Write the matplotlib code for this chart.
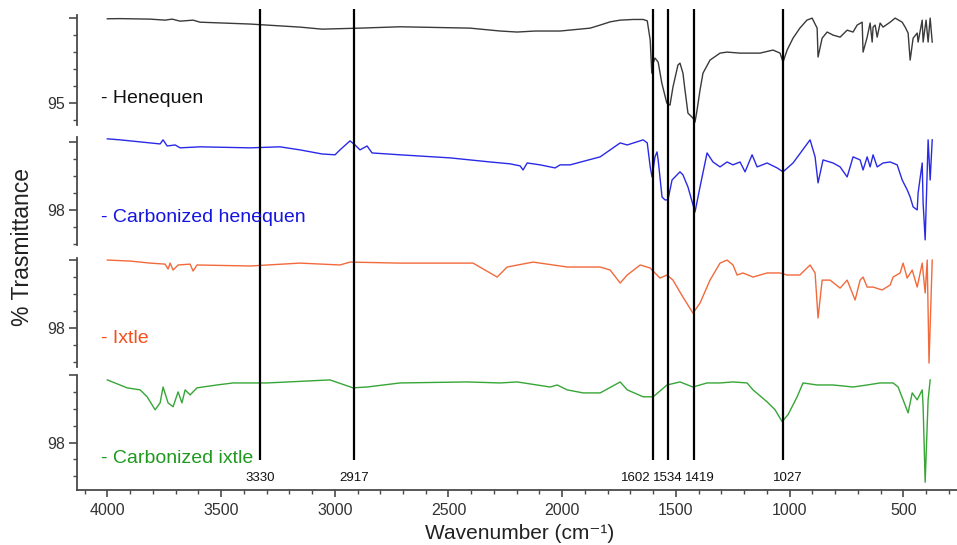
import matplotlib.pyplot as plt
from matplotlib.ticker import MultipleLocator

plt.rcParams['font.family'] = ['Liberation Sans', 'DejaVu Sans']

# FTIR spectra: wavenumber (cm-1) and offset transmittance for each sample
henequen_wn = [4000, 3944, 3812, 3746, 3715, 3680, 3623, 3592, 3372, 3153,
               3056, 2889, 2713, 2405, 2273, 2198, 2119, 2009, 1877, 1833,
               1789, 1745, 1687, 1644, 1626, 1613, 1606, 1600, 1592, 1578,
               1562, 1540, 1526, 1513, 1491, 1482, 1469, 1460, 1447, 1425,
               1416, 1407, 1394, 1381, 1350, 1306, 1275, 1218, 1130, 1073,
               1042, 1029, 1011, 985, 955, 924, 901, 879, 875, 857,
               835, 809, 778, 747, 721, 703, 681, 677, 659, 646,
               637, 633, 624, 615, 602, 589, 558, 536, 505, 492,
               479, 470, 457, 439, 435, 417, 413, 400, 391, 382, 373]
henequen_t = [99.96, 99.97, 99.94, 99.88, 99.94, 99.82, 99.88, 99.76, 99.65, 99.47,
              99.35, 99.41, 99.49, 99.41, 99.24, 99.18, 99.24, 99.24, 99.41, 99.59,
              99.78, 99.88, 99.92, 99.92, 99.84, 98.71, 96.76, 97.35, 97.65, 97.41,
              96.18, 95.00, 94.88, 95.94, 97.24, 97.35, 96.76, 95.76, 94.41, 94.12,
              93.88, 94.59, 95.76, 96.76, 97.53, 97.94, 98.00, 97.94, 97.94, 98.12,
              97.94, 97.41, 98.12, 98.82, 99.41, 99.88, 100.00, 99.41, 97.71, 98.82,
              99.18, 99.00, 98.88, 99.29, 99.18, 99.59, 99.76, 98.00, 98.88, 99.71,
              98.59, 99.47, 99.59, 98.88, 99.71, 99.47, 99.76, 100.00, 99.76, 99.47,
              99.12, 97.53, 98.82, 99.12, 98.59, 99.88, 98.59, 99.88, 98.59, 100.00, 98.59]

carb_henequen_wn = [4000, 3944, 3856, 3812, 3768, 3755, 3737, 3702, 3680, 3592,
                    3372, 3241, 3153, 3056, 2999, 2977, 2933, 2911, 2889, 2858,
                    2836, 2713, 2493, 2317, 2229, 2185, 2172, 2154, 2097, 2031,
                    2009, 1965, 1833, 1745, 1714, 1644, 1626, 1613, 1605, 1592,
                    1583, 1578, 1561, 1548, 1535, 1517, 1482, 1469, 1447, 1416,
                    1394, 1363, 1337, 1306, 1275, 1249, 1218, 1196, 1165, 1143,
                    1099, 1055, 1029, 985, 910, 888, 875, 853, 809, 778,
                    747, 721, 690, 677, 659, 646, 633, 615, 589, 558,
                    527, 505, 483, 470, 457, 439, 435, 417, 413, 404, 391, 382, 373]
carb_henequen_t = [102.18, 102.12, 102.00, 101.94, 101.88, 102.12, 101.76, 101.82, 101.65, 101.71,
                   101.65, 101.71, 101.53, 101.29, 101.24, 101.53, 102.06, 101.82, 101.53, 101.76,
                   101.35, 101.24, 101.06, 100.82, 100.71, 100.59, 100.35, 100.76, 100.65, 100.47,
                   100.65, 100.65, 101.12, 101.94, 101.82, 102.12, 101.94, 100.53, 99.94, 101.12,
                   101.41, 100.94, 98.76, 98.59, 98.59, 99.76, 100.24, 100.06, 99.35, 97.88,
                   99.35, 101.35, 100.82, 100.53, 100.82, 100.65, 100.82, 100.24, 101.24, 100.53,
                   100.76, 100.47, 100.24, 100.76, 102.12, 101.12, 99.59, 100.94, 100.76, 100.53,
                   99.94, 101.12, 100.94, 100.35, 101.12, 100.53, 101.24, 100.53, 100.76, 100.82,
                   100.65, 99.76, 99.18, 98.76, 98.18, 98.00, 99.00, 100.76, 98.41, 96.24, 102.12, 99.76, 102.12]

ixtle_wn = [4000, 3900, 3812, 3746, 3733, 3724, 3711, 3689, 3636, 3623,
            3606, 3372, 3153, 2977, 2933, 2713, 2392, 2286, 2242, 2128,
            2040, 1978, 1833, 1789, 1745, 1714, 1657, 1613, 1570, 1539,
            1513, 1469, 1425, 1394, 1350, 1306, 1275, 1249, 1231, 1205,
            1161, 1099, 1042, 1011, 955, 910, 888, 875, 857, 822,
            778, 747, 712, 690, 677, 659, 633, 593, 558, 545,
            514, 501, 483, 461, 439, 417, 404, 395, 387, 373]
ixtle_t = [102.00, 101.94, 101.82, 101.76, 101.47, 101.82, 101.41, 101.71, 101.76, 101.35,
           101.71, 101.65, 101.82, 101.71, 101.88, 101.82, 101.82, 101.00, 101.59, 101.88,
           101.71, 101.59, 101.59, 101.41, 100.65, 101.12, 101.71, 101.53, 100.94, 101.12,
           100.82, 99.82, 98.88, 99.47, 100.82, 101.82, 102.00, 101.71, 101.12, 101.24,
           101.00, 101.24, 101.24, 101.12, 101.12, 101.71, 101.24, 98.59, 100.82, 100.82,
           100.35, 100.82, 99.65, 100.82, 101.00, 100.41, 100.41, 100.24, 100.53, 101.00,
           101.24, 101.82, 100.94, 101.41, 100.41, 101.82, 100.06, 102.00, 95.94, 102.00]

carb_ixtle_wn = [4000, 3913, 3856, 3825, 3790, 3768, 3755, 3733, 3711, 3689,
                 3672, 3658, 3636, 3606, 3518, 3447, 3298, 3021, 2920, 2858,
                 2713, 2418, 2273, 2198, 2053, 2022, 1978, 1908, 1833, 1745,
                 1714, 1644, 1600, 1539, 1482, 1425, 1363, 1306, 1249, 1187,
                 1161, 1099, 1064, 1033, 1007, 967, 941, 879, 809, 721,
                 659, 602, 545, 523, 501, 479, 461, 439, 417, 413,
                 404, 391, 382]
carb_ixtle_t = [101.71, 101.24, 101.12, 100.71, 99.94, 100.35, 101.29, 100.35, 100.12, 101.00,
                100.35, 101.12, 100.82, 101.24, 101.41, 101.53, 101.53, 101.71, 101.24, 101.29,
                101.53, 101.59, 101.53, 101.59, 101.29, 101.41, 101.12, 100.94, 100.94, 101.59,
                101.12, 100.71, 100.71, 101.41, 101.59, 101.29, 101.53, 101.53, 101.59, 101.53,
                101.12, 100.41, 99.94, 99.24, 99.65, 100.71, 101.53, 101.41, 101.41, 101.29,
                101.41, 101.53, 101.53, 101.29, 100.53, 99.76, 100.94, 100.53, 101.12, 100.12,
                95.65, 100.53, 101.71]

sample_names = ['Henequen', 'Carbonized henequen', 'Ixtle', 'Carbonized ixtle']
label_ticks = [95, 98, 98, 98]
top_ticks = [100, 102, 102, 102]
band_positions = [3330, 2917, 1602, 1534, 1419, 1027]

spectra = [(henequen_wn, henequen_t), (carb_henequen_wn, carb_henequen_t),
           (ixtle_wn, ixtle_t), (carb_ixtle_wn, carb_ixtle_t)]
line_colors = ['#3a3a3a', '#2a2ae6', '#f26a3c', '#36a636']
text_colors = ['#111111', '#1515e0', '#f2501e', '#1f9a1f']

# panel boxes (figure fraction) and y ranges, top to bottom
panel_boxes = [(0.7706, 0.2018), (0.5505, 0.1982), (0.3266, 0.2000), (0.1009, 0.2110)]
panel_ylims = [(93.71, 100.18), (95.94, 102.29), (95.71, 102.12), (95.19, 102.0)]
name_y = [0.820, 0.600, 0.378, 0.158]

# horizontal nudge (points) and alignment for the crowded band labels
band_label_style = {1602: (-1.5, 'right'), 1534: (0, 'center'), 1419: (4, 'center'),
                    1027: (3, 'center')}

xlim = (4132, 264)
left, width = 0.0808, 0.9192
axis_grey = '#4a4a4a'

fig = plt.figure(figsize=(9.57, 5.45), dpi=100)

for i, (wn, t) in enumerate(spectra):
    bottom, height = panel_boxes[i]
    ax = fig.add_axes([left, bottom, width, height])
    ax.plot(wn, t, color=line_colors[i], lw=1.0, clip_on=False)
    ax.set_xlim(*xlim)
    ax.set_ylim(*panel_ylims[i])
    ax.set_facecolor('none')
    for s in ['top', 'right']:
        ax.spines[s].set_visible(False)
    ax.spines['left'].set_color(axis_grey)
    ax.spines['left'].set_linewidth(1.3)
    ax.set_yticks([label_ticks[i], top_ticks[i]])
    ax.set_yticklabels([str(label_ticks[i]), ''])
    ax.yaxis.set_minor_locator(MultipleLocator(1))
    ax.tick_params(axis='y', which='major', length=6, width=1.2, color=axis_grey,
                   labelsize=11.5, labelcolor='#333333', pad=3)
    ax.tick_params(axis='y', which='minor', length=3, width=1.0, color=axis_grey)
    if i < 3:
        ax.spines['bottom'].set_visible(False)
        ax.set_xticks([])
        ax.xaxis.set_minor_locator(plt.NullLocator())
    else:
        ax.spines['bottom'].set_color(axis_grey)
        ax.spines['bottom'].set_linewidth(1.3)
        ax.xaxis.set_major_locator(MultipleLocator(500))
        ax.xaxis.set_minor_locator(MultipleLocator(100))
        ax.tick_params(axis='x', which='major', length=5, width=1.2, color=axis_grey,
                       labelsize=11.5, labelcolor='#333333', pad=4)
        ax.tick_params(axis='x', which='minor', length=3, width=1.0, color=axis_grey)
    fig.text(0.1055, name_y[i], '- ' + sample_names[i], color=text_colors[i],
             fontsize=14, va='center')

# band markers drawn across all panels
overlay = fig.add_axes([left, 0, width, 1])
overlay.set_xlim(*xlim)
overlay.set_ylim(545, 0)
overlay.axis('off')
overlay.vlines(band_positions, 9, 460, color='black', lw=1.6)
for b in band_positions:
    dx, ha = band_label_style.get(b, (0, 'center'))
    overlay.annotate(str(b), (b, 478), xytext=(dx, 0), textcoords='offset points',
                     ha=ha, va='center', fontsize=9.5, color='#111111')

fig.text(0.5425, 0.022, 'Wavenumber (cm\u207b\u00b9)', ha='center', va='center',
         fontsize=15, color='#222222')
fig.text(0.024, 0.547, '% Trasmittance', ha='center', va='center', rotation=90,
         fontsize=16.5, color='#222222')

fig.savefig('out.png', dpi=100)
